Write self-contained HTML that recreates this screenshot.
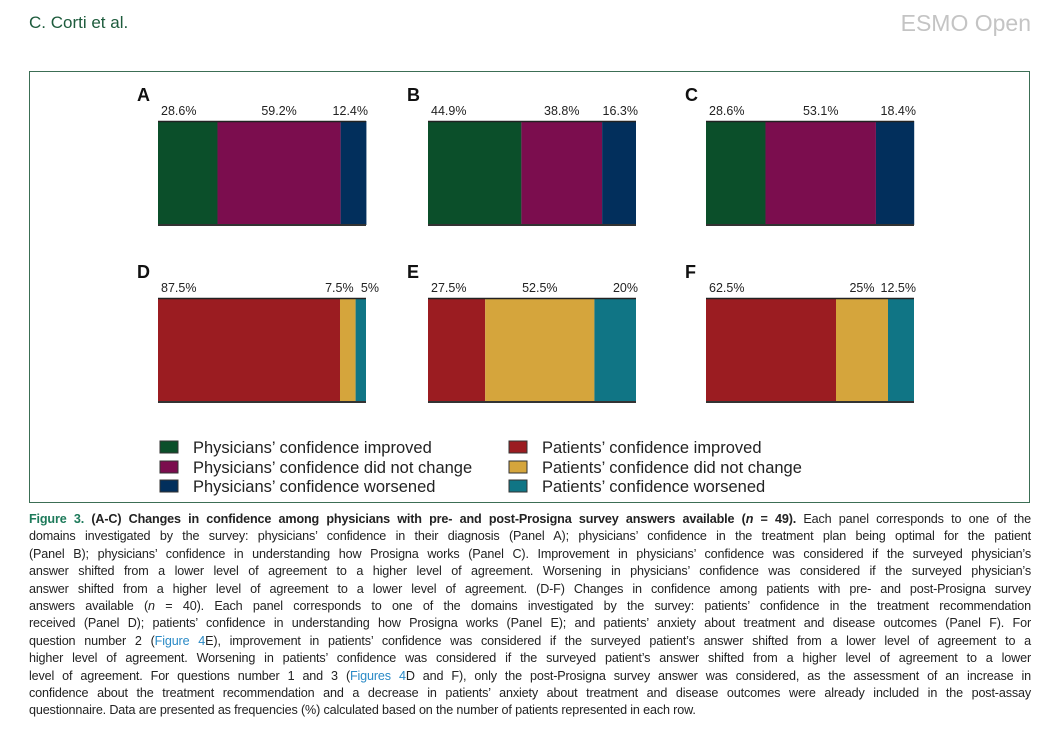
<!DOCTYPE html>
<html><head><meta charset="utf-8">
<style>
body{margin:0;width:1054px;height:735px;background:#fff;position:relative;overflow:hidden;font-family:"Liberation Sans",sans-serif}
#hdr-l{position:absolute;left:29px;top:13px;font-size:17px;color:#1d5b3c}
#hdr-r{position:absolute;right:23px;top:10px;font-size:23px;color:#c4c4c4}
#box{position:absolute;left:29px;top:71px;width:1001px;height:432px;border:1.5px solid #3c6e55;box-sizing:border-box}
svg{position:absolute;left:0;top:0}
#cap{position:absolute;left:29px;top:511px;width:1002px;font-size:12.6px;line-height:17.4px;color:#222}
#cap div{text-align:justify;text-align-last:justify;white-space:nowrap;letter-spacing:-0.15px}
#cap div.last{text-align-last:left}
.fg{color:#1d7a5a;font-weight:bold}
.lk{color:#2a8ac6}
</style></head><body>
<div id="hdr-l">C. Corti et al.</div>
<div id="hdr-r">ESMO Open</div>
<div id="box"></div>
<svg id="chart" width="1054" height="735"></svg>
<div id="cap">
<div><span class="fg">Figure 3.</span> <b>(A-C) Changes in confidence among physicians with pre- and post-Prosigna survey answers available (<i>n</i> = 49).</b> Each panel corresponds to one of the</div>
<div>domains investigated by the survey: physicians’ confidence in their diagnosis (Panel A); physicians’ confidence in the treatment plan being optimal for the patient</div>
<div>(Panel B); physicians’ confidence in understanding how Prosigna works (Panel C). Improvement in physicians’ confidence was considered if the surveyed physician’s</div>
<div>answer shifted from a lower level of agreement to a higher level of agreement. Worsening in physicians’ confidence was considered if the surveyed physician’s</div>
<div>answer shifted from a higher level of agreement to a lower level of agreement. (D-F) Changes in confidence among patients with pre- and post-Prosigna survey</div>
<div>answers available (<i>n</i> = 40). Each panel corresponds to one of the domains investigated by the survey: patients’ confidence in the treatment recommendation</div>
<div>received (Panel D); patients’ confidence in understanding how Prosigna works (Panel E); and patients’ anxiety about treatment and disease outcomes (Panel F). For</div>
<div>question number 2 (<span class="lk">Figure 4</span>E), improvement in patients’ confidence was considered if the surveyed patient’s answer shifted from a lower level of agreement to a</div>
<div>higher level of agreement. Worsening in patients’ confidence was considered if the surveyed patient’s answer shifted from a higher level of agreement to a lower</div>
<div>level of agreement. For questions number 1 and 3 (<span class="lk">Figures 4</span>D and F), only the post-Prosigna survey answer was considered, as the assessment of an increase in</div>
<div>confidence about the treatment recommendation and a decrease in patients’ anxiety about treatment and disease outcomes were already included in the post-assay</div>
<div class="last">questionnaire. Data are presented as frequencies (%) calculated based on the number of patients represented in each row.</div>
</div>
<script>
const panels = ["A","B","C","D","E","F"];
const improved = [28.6, 44.9, 28.6, 87.5, 27.5, 62.5];
const noChange = [59.2, 38.8, 53.1, 7.5, 52.5, 25];
const worsened = [12.4, 16.3, 18.4, 5, 20, 12.5];
const labelsImproved = ["28.6%","44.9%","28.6%","87.5%","27.5%","62.5%"];
const labelsNoChange = ["59.2%","38.8%","53.1%","7.5%","52.5%","25%"];
const labelsWorsened = ["12.4%","16.3%","18.4%","5%","20%","12.5%"];
const physColors = ["#0b4f2a","#7b0d4e","#022f5c"];
const patColors = ["#9b1c21","#d5a53c","#107585"];
const legendPhys = ["Physicians’ confidence improved","Physicians’ confidence did not change","Physicians’ confidence worsened"];
const legendPat = ["Patients’ confidence improved","Patients’ confidence did not change","Patients’ confidence worsened"];

const svg = document.getElementById('chart');
const NS = 'http://www.w3.org/2000/svg';
function mk(tag, attrs){const e=document.createElementNS(NS,tag);for(const k in attrs)e.setAttribute(k,attrs[k]);svg.appendChild(e);return e;}
const colX = [158, 428, 706];
const rowY = [121, 298];
const barW = 208, barH = 104;
function xScale(i, v){ return colX[i%3] + v/100*barW; }

panels.forEach((p,i)=>{
  const x0 = colX[i%3], y0 = rowY[Math.floor(i/3)];
  const cols = i<3 ? physColors : patColors;
  const lt = mk('text',{x:x0-21,y:y0-20,'font-size':18,'font-weight':'bold',fill:'#111'});
  lt.textContent = p;
  
  
  const vals=[improved[i],noChange[i],worsened[i]];
  const labs=[labelsImproved[i],labelsNoChange[i],labelsWorsened[i]];
  const names=['improved','no-change','worsened'];
  let cum=0;
  vals.forEach((v,j)=>{
    const xa=xScale(i,cum), xb=xScale(i,cum+v);
    const r=mk('rect',{x:xa,y:y0,width:xb-xa,height:barH,fill:cols[j]});
    
    
    let tx, anchor;
    if(j===0){tx=x0+3;anchor='start';}
    else if(j===2){tx=x0+barW+2;anchor='end'; if(i===3){tx=x0+barW+13;}}
    else {tx=(xa+xb)/2;anchor='middle'; if(i===3){tx=xb-2;anchor='end';}}
    const t=mk('text',{x:tx,y:y0-6,'font-size':12.5,fill:'#222','text-anchor':anchor});
    t.textContent=labs[j];
    
    
    cum+=v;
  });
  const tl=mk('line',{x1:x0,x2:x0+barW,y1:y0+0.5,y2:y0+0.5,stroke:'#222','stroke-width':1.5});
  
  
  const bl=mk('line',{x1:x0,x2:x0+barW,y1:y0+barH,y2:y0+barH,stroke:'#333','stroke-width':2});
  
  
});

const legY=[447,467,486];
[[legendPhys,physColors,160],[legendPat,patColors,509]].forEach((g,gi)=>{
  g[0].forEach((txt,k)=>{
    const r=mk('rect',{x:g[2],y:legY[k]-6,width:18,height:12,fill:g[1][k],stroke:'#333','stroke-width':1});
    
    
    const t=mk('text',{x:g[2]+33,y:legY[k]+6,'font-size':16.5,fill:'#222'});
    t.textContent=txt;
    
    
  });
});
</script>
</body></html>
